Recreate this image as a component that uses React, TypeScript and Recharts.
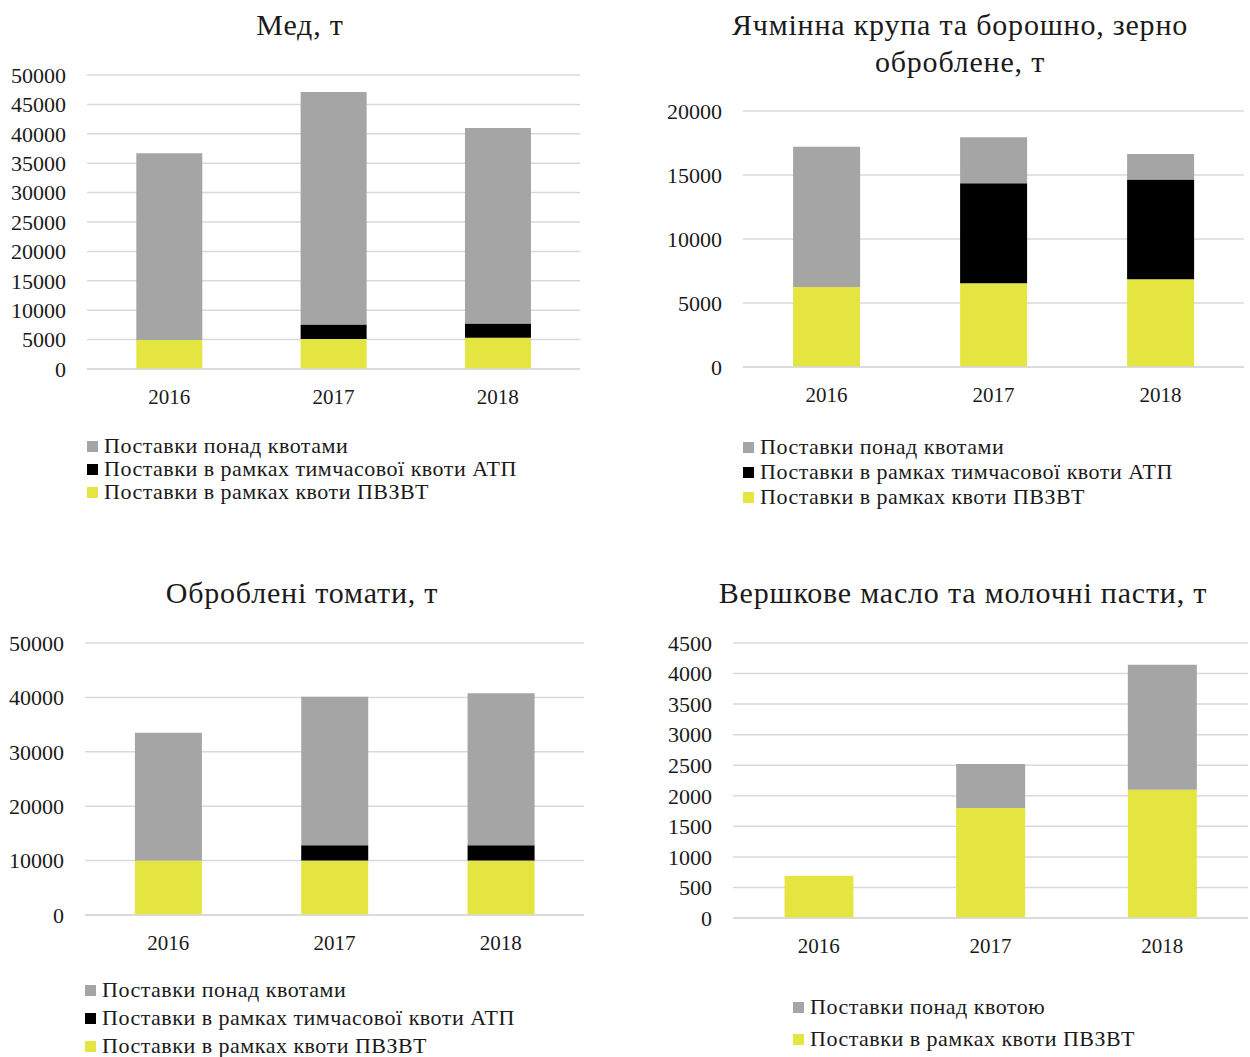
import { BarChart, Bar, XAxis, YAxis, CartesianGrid } from 'recharts';

const years = ['2016', '2017', '2018'];

// Мед
const honeyQuota = [4950, 5100, 5300];
const honeyAtp = [0, 2450, 2450];
const honeyOver = [31750, 39550, 33250];
const honeyTicks = [0, 5000, 10000, 15000, 20000, 25000, 30000, 35000, 40000, 45000, 50000];

// Ячмінна крупа
const barleyQuota = [6250, 6550, 6850];
const barleyAtp = [0, 7800, 7800];
const barleyOver = [10950, 3600, 2000];
const barleyTicks = [0, 5000, 10000, 15000, 20000];

// Оброблені томати
const tomatoQuota = [10000, 10000, 10000];
const tomatoAtp = [0, 2800, 2800];
const tomatoOver = [23500, 27300, 27950];
const tomatoTicks = [0, 10000, 20000, 30000, 40000, 50000];

// Вершкове масло
const butterQuota = [690, 1800, 2100];
const butterOver = [0, 720, 2045];
const butterTicks = [0, 500, 1000, 1500, 2000, 2500, 3000, 3500, 4000, 4500];

const YELLOW = '#E5E542';
const BLACK = '#000000';
const GRAY = '#A5A5A5';
const GRID = '#D9D9D9';
const FONT = '"Liberation Serif", serif';
const TEXT = '#1a1a1a';

type Series = { key: string; name: string; color: string; values: number[] };

const buildRows = (series: Series[]) =>
  years.map((year, i) => {
    const row: Record<string, string | number> = { year };
    series.forEach((s) => (row[s.key] = s.values[i]));
    return row;
  });

type PanelProps = {
  x: number;
  y: number;
  w: number;
  h: number;
  margin: { top: number; right: number; bottom: number; left: number };
  title: string[];
  titleX: number;
  titleY: number;
  series: Series[];
  ticks: number[];
  legendX: number;
  legendY: number;
  legendStep: number;
};

const Panel = (p: PanelProps) => {
  const rows = buildRows(p.series);
  const max = p.ticks[p.ticks.length - 1];
  return (
    <>
      <div
        style={{
          position: 'absolute',
          left: p.titleX - 300,
          top: p.titleY - 19,
          width: 600,
          textAlign: 'center',
          fontSize: 30,
          letterSpacing: 0.8,
          lineHeight: '37px',
          color: TEXT,
          fontFamily: FONT,
        }}
      >
        {p.title.map((t) => (
          <div key={t}>{t}</div>
        ))}
      </div>
      <div style={{ position: 'absolute', left: p.x, top: p.y }}>
        <BarChart width={p.w} height={p.h} data={rows} margin={p.margin} barCategoryGap="30%">
          <CartesianGrid vertical={false} stroke={GRID} strokeWidth={1.5} />
          <XAxis
            dataKey="year"
            height={40}
            tickLine={false}
            tickSize={0}
            tickMargin={20}
            axisLine={{ stroke: GRID, strokeWidth: 1.5 }}
            tick={{ fontSize: 21, fill: TEXT, fontFamily: FONT }}
          />
          <YAxis
            width={80}
            domain={[0, max]}
            ticks={p.ticks}
            interval={0}
            axisLine={false}
            tickLine={false}
            tickSize={0}
            tickMargin={21}
            tick={{ fontSize: 22, fill: TEXT, fontFamily: FONT }}
          />
          {p.series.map((s) => (
            <Bar key={s.key} dataKey={s.key} name={s.name} stackId="a" fill={s.color} isAnimationActive={false} />
          ))}
        </BarChart>
      </div>
      <div style={{ position: 'absolute', left: p.legendX, top: p.legendY, fontFamily: FONT, color: TEXT }}>
        {[...p.series].reverse().map((s, i) => (
          <div
            key={s.key}
            style={{
              position: 'absolute',
              top: i * p.legendStep,
              left: 0,
              display: 'flex',
              alignItems: 'center',
              whiteSpace: 'nowrap',
              fontSize: 22,
              letterSpacing: 0.5,
              lineHeight: '24px',
            }}
          >
            <span style={{ width: 11, height: 11, background: s.color, marginRight: 6, display: 'inline-block' }} />
            {s.name}
          </div>
        ))}
      </div>
    </>
  );
};

const overName = 'Поставки понад квотами';
const atpName = 'Поставки в рамках тимчасової квоти АТП';
const quotaName = 'Поставки в рамках квоти ПВЗВТ';

export default function App() {
  return (
    <div style={{ position: 'absolute', left: 0, top: 0, width: 1250, height: 1057, background: '#fff', overflow: 'hidden' }}>
      <Panel
        x={0}
        y={0}
        w={600}
        h={420}
        margin={{ top: 75, right: 20, bottom: 11, left: 7 }}
        title={['Мед, т']}
        titleX={300}
        titleY={25}
        ticks={honeyTicks}
        series={[
          { key: 'quota', name: quotaName, color: YELLOW, values: honeyQuota },
          { key: 'atp', name: atpName, color: BLACK, values: honeyAtp },
          { key: 'over', name: overName, color: GRAY, values: honeyOver },
        ]}
        legendX={87}
        legendY={434}
        legendStep={23}
      />
      <Panel
        x={640}
        y={0}
        w={610}
        h={420}
        margin={{ top: 111, right: 6, bottom: 13, left: 23 }}
        title={['Ячмінна крупа та борошно, зерно', 'оброблене, т']}
        titleX={960}
        titleY={25}
        ticks={barleyTicks}
        series={[
          { key: 'quota', name: quotaName, color: YELLOW, values: barleyQuota },
          { key: 'atp', name: atpName, color: BLACK, values: barleyAtp },
          { key: 'over', name: overName, color: GRAY, values: barleyOver },
        ]}
        legendX={743}
        legendY={435}
        legendStep={25}
      />
      <Panel
        x={0}
        y={560}
        w={600}
        h={420}
        margin={{ top: 83, right: 16, bottom: 25, left: 5 }}
        title={['Оброблені томати, т']}
        titleX={302}
        titleY={593}
        ticks={tomatoTicks}
        series={[
          { key: 'quota', name: quotaName, color: YELLOW, values: tomatoQuota },
          { key: 'atp', name: atpName, color: BLACK, values: tomatoAtp },
          { key: 'over', name: overName, color: GRAY, values: tomatoOver },
        ]}
        legendX={85}
        legendY={978}
        legendStep={28}
      />
      <Panel
        x={640}
        y={560}
        w={610}
        h={420}
        margin={{ top: 83, right: 2, bottom: 22, left: 13 }}
        title={['Вершкове масло та молочні пасти, т']}
        titleX={963}
        titleY={593}
        ticks={butterTicks}
        series={[
          { key: 'quota', name: quotaName, color: YELLOW, values: butterQuota },
          { key: 'over', name: 'Поставки понад квотою', color: GRAY, values: butterOver },
        ]}
        legendX={793}
        legendY={995}
        legendStep={32}
      />
    </div>
  );
}
